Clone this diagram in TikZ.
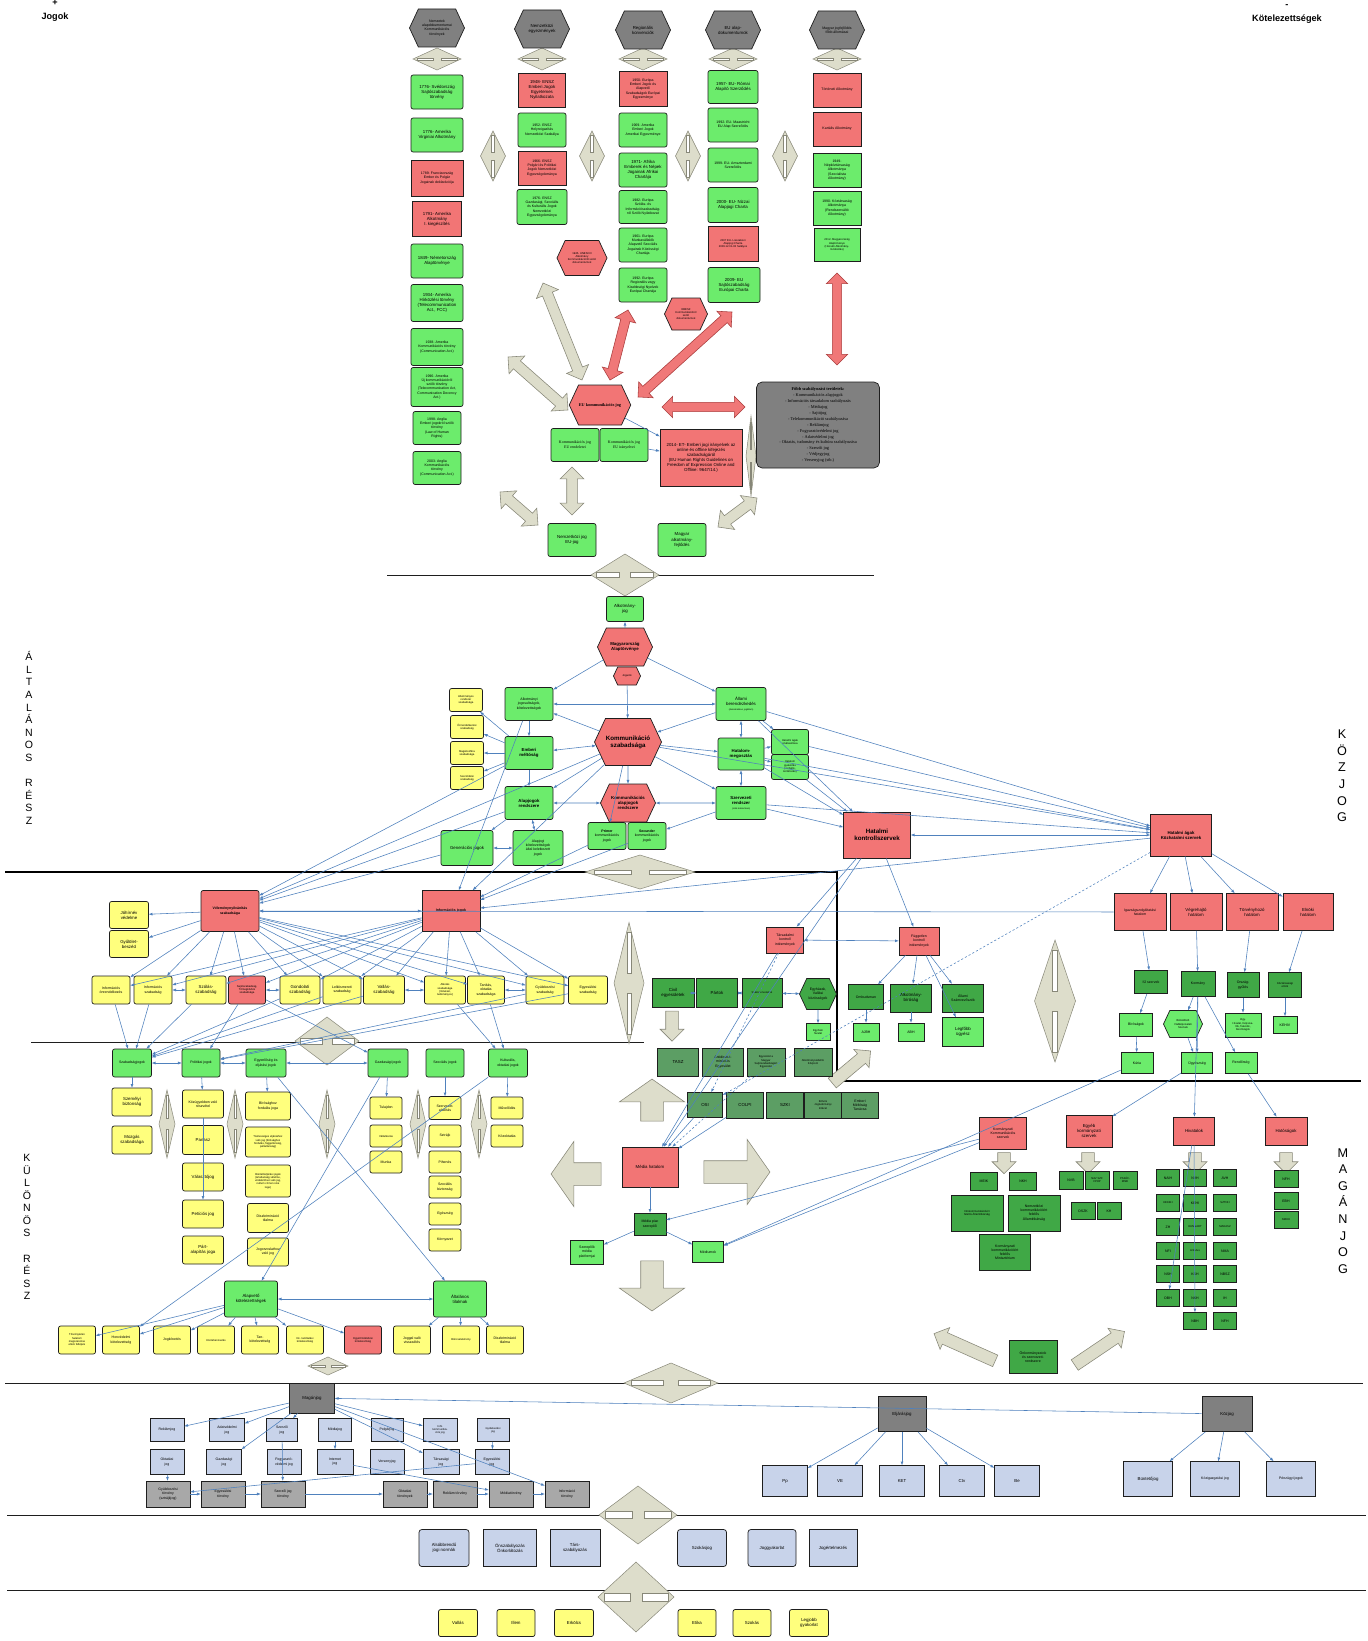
\documentclass[tikz,border=0pt]{standalone}
\usepackage{fontspec}
\setmainfont{Liberation Sans}
\newfontfamily\tnr{Liberation Serif}
\usepackage{tikz}
\usetikzlibrary{positioning,shapes.symbols,shapes.arrows}
\definecolor{grn}{RGB}{108,236,108}
\definecolor{dgrn}{RGB}{64,168,70}
\definecolor{mgrn}{RGB}{92,158,100}
\definecolor{rd}{RGB}{242,117,117}
\definecolor{yel}{RGB}{255,255,125}
\definecolor{hgry}{RGB}{128,128,128}
\definecolor{mgry}{RGB}{168,168,168}
\definecolor{lblu}{RGB}{200,211,234}
\definecolor{beige}{RGB}{221,221,203}
\definecolor{arrb}{RGB}{135,135,120}
\definecolor{lnk}{RGB}{79,129,189}
\definecolor{bord}{RGB}{30,30,30}
\definecolor{rarr}{RGB}{240,120,120}
\definecolor{rbord}{RGB}{170,60,60}

\newcommand\hdia[4]{%
  \filldraw[dia] (#1-#3/2,#2) -- (#1,#2-#4/2) -- (#1+#3/2,#2) -- (#1,#2+#4/2) -- cycle;
  \filldraw[slit] (#1-#3*0.42,#2-#4*0.06) rectangle (#1-#3*0.08,#2+#4*0.06);
  \filldraw[slit] (#1+#3*0.08,#2-#4*0.06) rectangle (#1+#3*0.42,#2+#4*0.06);}
\newcommand\vdia[4]{%
  \filldraw[dia] (#1-#3/2,#2) -- (#1,#2-#4/2) -- (#1+#3/2,#2) -- (#1,#2+#4/2) -- cycle;
  \filldraw[slit] (#1-#3*0.06,#2-#4*0.42) rectangle (#1+#3*0.06,#2-#4*0.08);
  \filldraw[slit] (#1-#3*0.06,#2+#4*0.08) rectangle (#1+#3*0.06,#2+#4*0.42);}

\begin{document}
\begin{tikzpicture}[x=0.05cm, y=-0.05cm,
  bx/.style={draw=bord, line width=1pt, align=center, inner sep=0.5pt, font=\fontsize{6.2}{7.2}\selectfont},
  sz/.style 2 args={minimum width=#1*0.05cm, minimum height=#2*0.05cm},
  gb/.style={bx, fill=grn, rounded corners=3pt},
  gs/.style={bx, fill=grn},
  rb/.style={bx, fill=rd},
  rr/.style={bx, fill=rd, rounded corners=3pt},
  yb/.style={bx, fill=yel, rounded corners=3pt},
  dg/.style={bx, fill=dgrn},
  mg/.style={bx, fill=mgrn},
  lb/.style={bx, fill=lblu},
  lbr/.style={bx, fill=lblu, rounded corners=4pt},
  dk/.style={bx, fill=hgry},
  md/.style={bx, fill=mgry},
  hexa/.style={bx, signal, signal to=east and west, signal pointer angle=130},
  hexg/.style={hexa, fill=hgry},
  hexr/.style={hexa, fill=rd},
  hexd/.style={hexa, fill=dgrn},
  hexl/.style={hexa, fill=grn},
  sm/.style={font=\fontsize{5}{5.9}\selectfont},
  tn/.style={font=\fontsize{3.9}{4.6}\selectfont},
  bf/.style={font=\fontsize{6.2}{7.2}\selectfont\bfseries},
  bfl/.style={font=\fontsize{8.8}{10.2}\selectfont\bfseries},
  side/.style={align=center, font=\fontsize{15}{17.9}\selectfont, inner sep=0pt},
  bigside/.style={align=center, font=\fontsize{18}{23.7}\selectfont, inner sep=0pt},
  corner/.style={font=\fontsize{13}{14}\selectfont\bfseries, inner sep=0pt},
  conn/.style={-latex, draw=lnk, line width=0.8pt},
  conn2/.style={latex-latex, draw=lnk, line width=0.8pt},
  connd/.style={-latex, draw=lnk, line width=0.8pt, dashed},
  dia/.style={fill=beige, draw=arrb, line width=0.7pt},
  slit/.style={fill=white, draw=arrb, line width=0.5pt},
  len/.style={minimum height=#1*0.05cm},
  bdbl/.style={double arrow, draw=arrb, fill=beige, line width=0.8pt, inner xsep=0pt, inner ysep=0.25cm, double arrow head extend=0.33cm, double arrow tip angle=90},
  rdbl/.style={bdbl, draw=rbord, fill=rarr, inner ysep=0.22cm, double arrow head extend=0.3cm},
  bsgl/.style={single arrow, draw=arrb, fill=beige, line width=0.8pt, inner xsep=0pt, inner ysep=0.55cm, single arrow head extend=1.07cm, single arrow tip angle=110},
  ssgl/.style={bsgl, inner ysep=0.3cm, single arrow head extend=0.28cm, single arrow tip angle=90},
  frame/.style={line width=2.2pt, draw=black},
  rule/.style={line width=1pt, draw=bord}]

\fill[white] (0,0) rectangle (1368,1641);
\useasboundingbox (0,0) rectangle (1368,1641);

\node[corner] (plus) at (55,3) {+};
\node[corner] (jogok) at (55,17) {Jogok};
\node[corner] (minus) at (1287,6) {-};
\node[corner] (kotel) at (1287,19) {Kötelezettségek};

\node[side] (altalanos) at (29,738) {Á\\L\\T\\A\\L\\Á\\N\\O\\S\\[17.9pt]R\\É\\S\\Z};
\node[side] (kulonos) at (27,1227) {K\\Ü\\L\\Ö\\N\\Ö\\S\\[17.9pt]R\\É\\S\\Z};
\node[bigside] (kozjoglbl) at (1342,776) {K\\Ö\\Z\\J\\O\\G};
\node[bigside] (maganlbl) at (1343,1211) {M\\A\\G\\Á\\N\\J\\O\\G};

\draw[rule] (387,575) -- (874,575);
\draw[rule] (31,1042) -- (644,1042);
\draw[rule] (5,1383) -- (1363,1383);
\draw[rule] (7,1515) -- (1366,1515);
\draw[rule] (7,1590) -- (1366,1590);
\draw[frame] (5,872) -- (837,872) -- (837,1081) -- (1361,1081);

\hdia{437}{59}{48}{22}
\hdia{542}{59}{48}{22}
\hdia{643}{59}{48}{22}
\hdia{733}{59}{48}{22}
\hdia{837}{59}{48}{22}
\vdia{493}{156}{25}{50}
\vdia{592}{156}{25}{50}
\vdia{688}{156}{25}{50}
\vdia{785}{156}{25}{50}
\vdia{751}{456}{10}{80}
\hdia{625}{575}{68}{42}
\hdia{640}{872}{110}{34}
\vdia{629}{983}{30}{121}
\hdia{327}{1041}{64}{48}
\vdia{167}{1124}{16}{68}
\vdia{235}{1124}{16}{68}
\vdia{327}{1124}{16}{68}
\vdia{418}{1124}{16}{68}
\vdia{479}{1124}{16}{68}
\vdia{1055}{1001}{41}{122}
\hdia{328}{1366}{40}{18}
\hdia{671}{1383}{94}{40}
\hdia{638}{1515}{78}{58}
\hdia{636}{1597}{76}{70}

\node[bdbl, rotate={atan2(-97,39)}, len={104.5}] (bd1) at (562.5,331.5) {};
\node[bdbl, rotate={atan2(-53,60)}, len={80}] (bd2) at (538,383.5) {};
\node[rdbl, rotate={atan2(70,18)}, len={72.3}] (bd3) at (619,345) {};
\node[rdbl, rotate={atan2(85,94)}, len={126.7}] (bd4) at (685,354.5) {};
\node[rdbl, len={83}] (bd5) at (703.5,407) {};
\node[rdbl, rotate=90, len={92}] (bd6) at (837,319) {};
\node[bdbl, rotate=90, len={48}] (bd7) at (572,491) {};
\node[bdbl, rotate={atan2(-33,38)}, len={50.3}] (bd8) at (519,508.5) {};
\node[bdbl, rotate={atan2(29,39)}, len={48.6}] (bd9) at (737.5,512.5) {};

\node[bsgl, rotate=90, len={42}] (bup) at (652,1104) {};
\node[bsgl, rotate=180, len={50}] (bleft) at (580,1174) {};
\node[bsgl, len={66}] (bright) at (733,1172) {};
\node[bsgl, rotate=-90, len={50}] (bdown) at (652,1282) {};
\node[ssgl, rotate=-90, len={30}] (bcivil) at (672,1023) {};
\node[ssgl, rotate=40, len={50}] (bdiag) at (849,1069) {};
\node[ssgl, rotate=156, len={67}] (bonk1) at (967.5,1348.5) {};
\node[ssgl, rotate=34, len={60}] (bonk2) at (1097,1350) {};
\node[ssgl, rotate=-90, len={21}] (bk1) at (1004,1160) {};
\node[ssgl, rotate=-90, len={21}] (bk2) at (1088,1160) {};
\node[ssgl, rotate=-90, len={21}] (bk3) at (1195,1160) {};
\node[ssgl, rotate=-90, len={21}] (bk4) at (1286,1160) {};

\node[hexg, sz={55}{38}, sm] (hx1) at (437,28) {Nemzetek\\alapdokumentumai\\Kommunikációs\\törvények};
\node[hexg, sz={55}{38}] (hx2) at (542,29) {Nemzetközi\\egyezmények};
\node[hexg, sz={55}{38}] (hx3) at (643,30) {Regionális\\konvenciók};
\node[hexg, sz={55}{38}] (hx4) at (733,30) {EU alap-\\dokumentumok};
\node[hexg, sz={55}{38}, sm] (hx5) at (837,30) {Magyar jogfejlődés\\főbb állomásai};

\node[gb, sz={52}{34}] (c1a) at (437,92) {1776- Svédország\\Sajtószabadság\\törvény};
\node[gb, sz={52}{34}] (c1b) at (437,135) {1776- Amerika\\Virginiai Alkotmány};
\node[rb, sz={52}{36}, sm] (c1c) at (437,178) {1789- Franciaország\\Ember és Polgár\\Jogainak deklarációja};
\node[rb, sz={49}{35}] (c1d) at (437,219) {1791- Amerika\\Alkotmány\\I. kiegészítés};
\node[gb, sz={52}{34}] (c1e) at (437,261) {1849- Németország\\Alaptörvénye};
\node[gb, sz={52}{37}] (c1f) at (437,303) {1934- Amerika\\Hírközlési törvény\\(Telecommunication\\Act., FCC)};
\node[gb, sz={52}{37}, sm] (c1g) at (437,347) {1938- Amerika\\Kommunikációs törvény\\(Communication Act.)};
\node[gb, sz={52}{39}, sm] (c1h) at (437,387) {1996- Amerika\\Új kommunikációról\\szóló törvény\\(Telecommunication Act,\\Communication Decency\\Act.)};
\node[gb, sz={48}{33}, sm] (c1i) at (437,428) {1998- Anglia\\Emberi jogokról szóló\\törvény\\(Law of Human\\Rights)};
\node[gb, sz={48}{33}, sm] (c1j) at (437,468) {2003- Anglia\\Kommunikációs\\törvény\\(Communication Act.)};

\node[rb, sz={47}{34}] (c2a) at (542,90) {1948- ENSZ\\Emberi Jogok\\Egyetemes\\Nyilatkozata};
\node[gb, sz={48}{34}, sm] (c2b) at (542,130) {1952- ENSZ\\Helyreigazítás\\Nemzetközi Szabálya};
\node[rb, sz={48}{34}, sm] (c2c) at (542,168) {1966- ENSZ\\Polgári és Politikai\\Jogok Nemzetközi\\Egyezségokmánya};
\node[gb, sz={50}{35}, sm] (c2d) at (542,207) {1976- ENSZ\\Gazdasági, Szociális\\és Kulturális Jogok\\Nemzetközi\\Egyezségokmánya};
\node[hexr, sz={50}{35}, tn] (unesco) at (582,258) {1945- UNESCO\\Alkotmány\\Kommunikációról szóló\\dokumentumok};

\node[rb, sz={48}{35}, sm] (c3a) at (643,89) {1950- Európa\\Emberi Jogok és\\Alapvető\\Szabadságok Európai\\Egyezménye};
\node[gb, sz={48}{34}, sm] (c3b) at (643,130) {1969- Amerika\\Emberi Jogok\\Amerikai Egyezménye};
\node[gb, sz={48}{34}] (c3c) at (643,170) {1971- Afrika\\Emberek és Népek\\Jogainak Afrikai\\Chartája};
\node[gb, sz={48}{33}, sm] (c3d) at (643,207) {1982- Európa\\Szólás- és\\Információszabadság-\\ról Szóló Nyilatkozat};
\node[gb, sz={48}{34}, sm] (c3e) at (643,245) {1961- Európa\\Munkavállalók\\Alapvető Szociális\\Jogainak Közösségi\\Chartája};
\node[gb, sz={48}{34}, sm] (c3f) at (643,285) {1992- Európa\\Regionális vagy\\Kisebbségi Nyelvek\\Európai Chartája};
\node[hexr, sz={43}{32}, tn] (ebesz) at (686,314) {EBESZ\\Kommunikációról\\szóló\\dokumentumok};

\node[gb, sz={50}{33}] (c4a) at (733,87) {1957- EU- Római\\Alapító Szerződés};
\node[gb, sz={50}{34}, sm] (c4b) at (733,125) {1992- EU- Maastricht\\EU Alap Szerződés};
\node[gb, sz={50}{34}, sm] (c4c) at (733,165) {1999- EU- Amszterdami\\Szerződés};
\node[gb, sz={50}{35}] (c4d) at (733,205) {2000- EU- Nizzai\\Alapjogi Charta};
\node[rb, sz={50}{35}, tn] (c4e) at (733,244) {2007 EU- Lisszaboni\\Alapjogi Charta\\2009.12.01-től hatályos};
\node[gb, sz={52}{35}] (c4f) at (734,285) {2009- EU\\Sajtószabadság\\Európai Charta};

\node[rb, sz={48}{34}, sm] (c5a) at (837,90) {Történeti Alkotmány};
\node[rb, sz={48}{34}, sm] (c5b) at (837,129) {Kartális Alkotmány};
\node[gs, sz={48}{34}, sm] (c5c) at (837,170) {1949-\\Népköztársaság\\Alkotmánya\\(Szocialista\\Alkotmány)};
\node[gs, sz={48}{34}, sm] (c5d) at (837,208) {1990- Köztársaság\\Alkotmánya\\(Rendszerváltó\\Alkotmány)};
\node[gs, sz={46}{33}, tn] (c5e) at (837,245) {2012- Magyarország\\Alaptörvénye\\(Húsvéti Alkotmány-\\módosítás)};

\node[hexr, sz={57}{40}, font=\tnr\fontsize{6}{7}\selectfont\bfseries] (eukom) at (600,405) {EU kommunikációs jog};
\node[gb, sz={48}{33}, font=\tnr\fontsize{5.6}{7.5}\selectfont] (eu1) at (575,445) {Kommunikációs jog\\EU rendeletei};
\node[gb, sz={48}{33}, font=\tnr\fontsize{5.6}{7.5}\selectfont] (eu2) at (624,445) {Kommunikációs jog\\EU irányelvei};
\node[rb, sz={82}{57}] (et2014) at (701,458) {2014- ET- Emberi jogi irányelvek az\\online és offline kifejezés\\szabadságáról\\(EU Human Rights Guidelines on\\Freedom of Expression Online and\\Offline: 9647/14.)};
\node[bx, fill=hgry, rounded corners=8pt, sz={123}{86}, font=\tnr\fontsize{6.2}{8.5}\selectfont] (fobb) at (818,425) {{\bfseries Főbb szabályozási területek:}\\- Kommunikációs alapjogok\\- Információs társadalom szabályozás\\- Médiajog\\- Sajtójog\\- Telekommunikáció szabályozása\\- Reklámjog\\- Fogyasztóvédelmi jog\\- Adatvédelmi jog\\- Oktatás, tudomány és kultúra szabályozása\\- Szerzői jog\\- Védjegyjog\\- Versenyjog (stb.)};
\node[gb, sz={48}{33}] (nemzk) at (572,540) {Nemzetközi jog\\EU-jog};
\node[gb, sz={48}{33}] (magyalk) at (682,540) {Magyar\\alkotmány-\\fejlődés};

\node[gb, sz={37}{25}] (alkjog) at (625,609) {Alkotmány-\\jog};
\node[hexr, sz={55}{38}, bf] (alaptv) at (625,647) {Magyarország\\Alaptörvénye};
\node[hexr, sz={27}{18}, tn] (jogaink) at (627,676) {Jogaink};
\node[gb, sz={48}{33}, sm] (alkjogos) at (529,704) {Alkotmányi\\jogosultságok,\\kötelezettségek};
\node[gb, sz={50}{33}] (allami) at (741,704) {Állami\\berendezkedés\\{\fontsize{3.2}{4}\selectfont (demokratikus, jogállam)}};
\node[hexr, sz={65}{47}, bfl] (kommszab) at (628,742) {Kommunikáció\\szabadsága};
\node[gb, sz={48}{33}, bf] (emberi) at (529,753) {Emberi\\méltóság};
\node[gb, sz={46}{32}, bf] (hatalom) at (741,754) {Hatalom-\\megosztás};
\node[gb, sz={37}{25}, tn] (hagak) at (790,742) {Hatalmi ágak\\elválasztása};
\node[gb, sz={37}{25}, tn] (hgyak) at (790,767) {Hatalom\\gyakorlás\\(verbális,\\korlátozás)};
\node[yb, sz={33}{23}, tn] (y1) at (466,700) {Alkotmányos\\rendszer\\szabadsága};
\node[yb, sz={33}{23}, tn] (y2) at (467,727) {Önrendelkezési\\szabadság};
\node[yb, sz={33}{23}, tn] (y3) at (467,753) {Magánszféra\\szabadsága};
\node[yb, sz={33}{23}, tn] (y4) at (467,778) {Szerződési\\szabadság};
\node[gb, sz={48}{33}, bf] (alapjogok) at (529,803) {Alapjogok\\rendszere};
\node[hexr, sz={55}{38}, bf] (kommalap) at (628,803) {Kommunikációs\\alapjogok\\rendszere};
\node[gb, sz={50}{33}, bf] (szerv) at (741,803) {Szervezeti\\rendszer\\{\fontsize{3.2}{4}\selectfont\mdseries (szűk értelemben)}};
\node[gb, sz={52}{35}] (gener) at (467,848) {Generációs jogok};
\node[gb, sz={50}{35}, sm] (alapkotj) at (538,848) {Alapjogi\\kötelezettségek\\által keletkezett\\jogok};
\node[gb, sz={38}{27}, sm] (primer) at (607,836) {\textbf{Primer}\\kommunikációs\\jogok};
\node[gb, sz={38}{27}, sm] (secunder) at (647,836) {\textbf{Secunder}\\kommunikációs\\jogok};
\node[rb, sz={67}{46}, bfl] (hatkontr) at (877,835) {Hatalmi\\kontrollszervek};
\node[rb, sz={61}{42}, bf] (hatagak) at (1181,835) {Hatalmi ágak\\Közhatalmi szervek};

\node[rb, sz={37}{26}, sm] (tarsad) at (785,940) {Társadalmi\\kontroll\\intézmények};
\node[rb, sz={40}{28}, sm] (fuggetl) at (919,941) {Független\\kontroll\\intézmények};
\node[rb, sz={52}{37}, sm] (igaz) at (1140,912) {Igazságszolgáltatási\\hatalom};
\node[rb, sz={52}{37}] (vegre) at (1196,912) {Végrehajtó\\hatalom};
\node[rb, sz={52}{37}] (torv) at (1252,912) {Törvényhozó\\hatalom};
\node[rb, sz={50}{37}] (elnok) at (1308,912) {Elnöki\\hatalom};
\node[dg, sz={42}{29}] (civil) at (673,993) {Civil\\egyesületek};
\node[dg, sz={41}{29}] (partok) at (717,993) {Pártok};
\node[dg, sz={40}{29}, tn] (szaksz) at (762,993) {Szakszervezetek};
\node[hexd, sz={37}{31}, sm] (egyhaz) at (818,994) {Egyházak,\\Vallási\\közösségek};
\node[dg, sz={35}{25}, sm] (ombud) at (866,997) {Ombudsman};
\node[dg, sz={41}{28}] (alkbir) at (911,998) {Alkotmány-\\bíróság};
\node[dg, sz={41}{28}, sm] (asz) at (963,998) {Állami\\Számvevőszék};
\node[gs, sz={24}{17}, tn] (egyhiv) at (818,1032) {Egyházi\\hivatal};
\node[gs, sz={26}{18}, sm] (ajbh) at (866,1032) {AJBH};
\node[gs, sz={26}{18}, sm] (abh) at (911,1032) {ABH};
\node[gs, sz={41}{29}] (legfobb) at (963,1032) {Legfőbb\\ügyész};
\node[mg, sz={41}{28}] (tasz) at (678,1062) {TASZ};
\node[mg, sz={41}{28}, sm] (antid) at (723,1062) {Antidiszkri-\\minációs\\Egyesület};
\node[mg, sz={38}{28}, tn] (egysajto) at (766,1062) {Egyesület a\\Magyar\\Sajtószabadságért\\Egyesület};
\node[mg, sz={38}{28}, tn] (alkvk) at (813,1062) {Alkotmányvédelmi\\Központ};
\node[mg, sz={35}{25}] (osi) at (705,1105) {OSI};
\node[mg, sz={37}{26}] (colpi) at (745,1105) {COLPI};
\node[mg, sz={37}{26}] (szki) at (785,1105) {SZKI};
\node[mg, sz={37}{26}, tn] (eotvos) at (823,1105) {Eötvös\\Jogtudományi\\Intézet};
\node[mg, sz={37}{26}, sm] (emt) at (860,1105) {Emberi\\Méltóság\\Tanácsa};
\node[rb, sz={56}{40}] (mediah) at (650,1167) {Média hatalom};
\node[dg, sz={32}{22}, sm] (mpiac) at (650,1224) {Média piac\\szereplői};
\node[gs, sz={33}{24}, sm] (szerepl) at (587,1252) {Szereplők\\média\\platformjai};
\node[gs, sz={31}{21}, sm] (mediumok) at (708,1252) {Médiumok};

\node[dg, sz={33}{23}, sm] (iu) at (1151,982) {IÜ szervek};
\node[dg, sz={34}{25}, sm] (korm) at (1198,984) {Kormány};
\node[dg, sz={32}{25}, sm] (orszgy) at (1243,985) {Ország-\\gyűlés};
\node[dg, sz={33}{25}, tn] (ktelnok) at (1285,985) {Köztársasági\\elnök};
\node[gs, sz={33}{23}, sm] (birosag) at (1136,1025) {Bíróságok};
\node[hexl, sz={39}{27}, tn] (bunuld) at (1183,1024) {Bűnüldöző\\Vádképviseleti\\Szervek};
\node[gs, sz={36}{24}, tn] (ogyhiv) at (1243,1025) {Ogy.\\Hivatal, Képvise-\\lők, frakciók,\\bizottságok};
\node[gs, sz={24}{17}, sm] (kehiv) at (1285,1025) {KEHIV};
\node[gs, sz={32}{21}, sm] (kuria) at (1137,1063) {Kúria};
\node[gs, sz={31}{21}, sm] (ugyesz) at (1197,1063) {Ügyészség};
\node[gs, sz={32}{21}, sm] (rendor) at (1241,1063) {Rendőrség};

\node[yb, sz={39}{27}] (johir) at (129,915) {Jóhírnév\\védelme};
\node[yb, sz={39}{27}] (gyulol) at (129,944) {Gyűlölet-\\beszéd};
\node[rr, sz={58}{41}, font=\fontsize{5}{6}\selectfont\bfseries] (velem) at (230,911) {Véleménynyilvánítás\\szabadsága};
\node[rb, sz={58}{41}, font=\fontsize{5}{6}\selectfont\bfseries] (infoj) at (451,911) {Információs jogok};
\node[yb, sz={38}{28}, sm] (iro) at (111,990) {Információs\\önrendelkezés};
\node[yb, sz={38}{28}, sm] (isz) at (153,990) {Információs\\szabadság};
\node[yb, sz={40}{28}] (szol) at (206,990) {Szólás-\\szabadság};
\node[rr, sz={37}{28}, tn] (sajto) at (247,990) {Sajtószabadság,\\Tömegközlés\\szabadsága};
\node[yb, sz={40}{28}] (gond) at (300,990) {Gondolati\\szabadság};
\node[yb, sz={38}{28}, sm] (lelk) at (342,990) {Lelkiismereti\\szabadság};
\node[yb, sz={41}{28}] (vall) at (384,990) {Vallás-\\szabadság};
\node[yb, sz={41}{28}, tn] (alkot) at (445,990) {Alkotás\\szabadsága\\(művészi,\\tudományos)};
\node[yb, sz={37}{28}, sm] (tanit) at (486,990) {Tanítás,\\oktatás\\szabadsága};
\node[yb, sz={38}{28}, sm] (gyul) at (545,990) {Gyülekezési\\szabadság};
\node[yb, sz={39}{28}, sm] (egyes) at (588,990) {Egyesülési\\szabadság};

\node[gb, sz={39}{28}, sm] (szabj) at (132,1063) {Szabadságjogok};
\node[gb, sz={38}{28}, sm] (polj) at (201,1063) {Politikai jogok};
\node[gb, sz={40}{28}, sm] (egyj) at (266,1063) {Egyenlőség és\\eljárási jogok};
\node[gb, sz={40}{28}, sm] (gazdj) at (388,1063) {Gazdasági jogok};
\node[gb, sz={38}{28}, sm] (szocj) at (445,1063) {Szociális jogok};
\node[gb, sz={39}{28}, sm] (kultj) at (508,1063) {Kulturális,\\oktatási jogok};
\node[yb, sz={40}{28}] (szemb) at (132,1102) {Személyi\\biztonság};
\node[yb, sz={40}{28}] (mozg) at (132,1140) {Mozgás\\szabadsága};
\node[yb, sz={41}{28}, sm] (kozugy) at (203,1104) {Közügyekben való\\részvétel};
\node[yb, sz={41}{29}] (panasz) at (203,1140) {Panasz};
\node[yb, sz={41}{28}] (valaszt) at (203,1177) {Választójog};
\node[yb, sz={41}{28}] (petic) at (203,1214) {Petíciós jog};
\node[yb, sz={41}{28}] (part) at (203,1250) {Párt-\\alapítás joga};
\node[yb, sz={45}{28}, sm] (birf) at (268,1106) {Bírósághoz\\fordulás joga};
\node[yb, sz={45}{30}, tn] (tiszt) at (268,1142) {Tisztességes eljáráshoz\\való jog (bírósághoz\\fordulás, függetlenség,\\pártatlanság)};
\node[yb, sz={45}{32}, tn] (buntej) at (268,1181) {Büntetőeljárási jogok\\(ártatlanság vélelme,\\védelemhez való jog,\\nullum crimen sine\\lege)};
\node[yb, sz={41}{29}, sm] (diszk) at (268,1218) {Diszkrimináció\\tilalma};
\node[yb, sz={41}{28}, sm] (jogorv) at (268,1252) {Jogorvoslathoz\\való jog};
\node[yb, sz={32}{22}, sm] (tulaj) at (386,1108) {Tulajdon};
\node[yb, sz={32}{22}, tn] (vallalk) at (386,1136) {Vállalkozás};
\node[yb, sz={32}{22}, sm] (munka) at (386,1162) {Munka};
\node[yb, sz={32}{23}, sm] (szervalak) at (445,1108) {Szervezet-\\alakítás};
\node[yb, sz={32}{22}, sm] (sztrajk) at (445,1136) {Sztrájk};
\node[yb, sz={32}{22}, sm] (pihen) at (445,1162) {Pihenés};
\node[yb, sz={32}{22}, sm] (szocb) at (445,1187) {Szociális\\biztonság};
\node[yb, sz={32}{22}, sm] (egesz) at (445,1214) {Egészség};
\node[yb, sz={32}{22}, sm] (korny) at (445,1240) {Környezet};
\node[yb, sz={32}{22}, sm] (muvel) at (507,1108) {Művelődés};
\node[yb, sz={32}{22}, sm] (kozokt) at (507,1136) {Közoktatás};
\node[gb, sz={53}{36}] (alapkot) at (251,1299) {Alapvető\\kötelezettségek};
\node[gb, sz={53}{36}] (altil) at (460,1299) {Általános\\tilalmak};
\node[yb, sz={37}{28}, tn] (b1) at (77,1340) {Törvénytelen\\hatalom\\megszerzése\\elleni fellépés};
\node[yb, sz={37}{28}, sm] (b2) at (121,1340) {Honvédelmi\\kötelezettség};
\node[yb, sz={37}{28}, sm] (b3) at (172,1340) {Jogkövetés};
\node[yb, sz={37}{28}, tn] (b4) at (216,1340) {Közteherviselés};
\node[yb, sz={37}{28}, sm] (b5) at (260,1340) {Tan-\\kötelezettség};
\node[yb, sz={37}{28}, tn] (b6) at (305,1340) {Kk. taníttatási\\kötelezettség};
\node[rr, sz={37}{28}, tn] (b7) at (363,1340) {Együttműködési\\kötelezettség};
\node[yb, sz={37}{28}, sm] (b8) at (412,1340) {Joggal való\\visszaélés};
\node[yb, sz={37}{28}, tn] (b9) at (461,1340) {Bűncselekmény};
\node[yb, sz={37}{28}, sm] (b10) at (505,1340) {Diszkrimináció\\tilalma};

\node[rb, sz={47}{32}, sm] (kormkom) at (1003,1133) {Kormányzati\\Kommunikációs\\szervek};
\node[rb, sz={46}{32}] (egyeb) at (1089,1131) {Egyéb\\kormányzati\\szervek};
\node[rb, sz={41}{28}] (hivatal) at (1194,1131) {Hivatalok};
\node[rb, sz={42}{28}] (hatosag) at (1286,1131) {Hatóságok};
\node[dg, sz={27}{18}, sm] (meik) at (984,1181) {MEIK};
\node[dg, sz={27}{18}, sm] (nkh1) at (1023,1181) {NKH};
\node[dg, sz={52}{36}, tn] (infoall) at (977,1213) {Infokommunikációért\\felelős Államtitkárság};
\node[dg, sz={52}{36}, sm] (nemzall) at (1034,1213) {Nemzetközi\\kommunikációért\\felelős\\Államtitkárság};
\node[dg, sz={51}{36}, sm] (kormmin) at (1005,1252) {Kormányzati\\kommunikációért\\felelős\\Minisztérium};
\node[dg, sz={24}{18}, sm] (nvb) at (1071,1180) {NVB};
\node[dg, sz={24}{18}, tn] (navszf) at (1097,1180) {NAV SZF\\VPOP};
\node[dg, sz={24}{18}, tn] (pszaf) at (1125,1180) {PSZÁF-\\MNB};
\node[dg, sz={24}{17}, sm] (oszk) at (1083,1211) {OSZK};
\node[dg, sz={24}{17}, sm] (kh) at (1109,1211) {KH};
\node[dg, sz={23}{17}, sm] (naih) at (1168,1178) {NAIH};
\node[dg, sz={23}{17}, tn] (kekkh) at (1168,1203) {KEKKH};
\node[dg, sz={23}{17}, sm] (zh) at (1168,1227) {ZH};
\node[dg, sz={23}{17}, sm] (nfi) at (1168,1251) {NFI};
\node[dg, sz={23}{17}, sm] (nsh) at (1168,1274) {NSH};
\node[dg, sz={23}{17}, sm] (obh) at (1168,1298) {OBH};
\node[dg, sz={23}{17}, sm] (nvh) at (1195,1178) {NVH};
\node[dg, sz={23}{17}, sm] (kehi) at (1195,1203) {KEHI};
\node[dg, sz={23}{17}, tn] (hungart) at (1195,1227) {HUNGART};
\node[dg, sz={23}{17}, tn] (artisjus) at (1195,1251) {ArtisJus};
\node[dg, sz={23}{17}, sm] (ksh) at (1195,1274) {KSH};
\node[dg, sz={23}{17}, sm] (nkh2) at (1195,1298) {NKH};
\node[dg, sz={23}{17}, sm] (nbh) at (1195,1321) {NBH};
\node[dg, sz={23}{17}, sm] (avh) at (1225,1178) {AVH};
\node[dg, sz={23}{17}, tn] (sztnh) at (1225,1203) {SZTNH};
\node[dg, sz={23}{17}, tn] (mahasz) at (1225,1227) {MAHASZ};
\node[dg, sz={23}{17}, sm] (nma) at (1225,1251) {NMA};
\node[dg, sz={23}{17}, sm] (nbsz) at (1225,1274) {NBSZ};
\node[dg, sz={23}{17}, sm] (ih) at (1225,1298) {IH};
\node[dg, sz={23}{17}, sm] (nfh1) at (1225,1321) {NFH};
\node[dg, sz={24}{17}, sm] (nfh2) at (1286,1179) {NFH};
\node[dg, sz={24}{17}, sm] (ebh) at (1286,1201) {EBH};
\node[dg, sz={24}{17}, tn] (nmhh) at (1286,1220) {NMHH};
\node[dg, sz={48}{33}, sm] (onkorm) at (1033,1357) {Önkormányzatok\\és szervezeti-\\rendszere};

\node[dk, sz={45}{30}] (maganjog) at (312,1398) {Magánjog};
\node[lb, sz={34}{23}, sm] (reklamj) at (167,1430) {Reklámjog};
\node[lb, sz={35}{23}, sm] (adatv) at (227,1430) {Adatvédelmi\\jog};
\node[lb, sz={31}{23}, sm] (szerzoj) at (282,1430) {Szerzői\\jog};
\node[lb, sz={33}{23}, sm] (mediaj) at (335,1430) {Médiajog};
\node[lb, sz={32}{23}, sm] (polgarj) at (387,1430) {Polgárjog};
\node[lb, sz={34}{23}, tn] (infokj) at (440,1430) {Info\\kommuniká-\\ciós jog};
\node[lb, sz={32}{23}, tn] (gyulj) at (493,1430) {Gyülekezési\\jog};
\node[lb, sz={34}{25}, sm] (oktj) at (167,1462) {Oktatási\\jog};
\node[lb, sz={35}{25}, sm] (gazdj2) at (224,1462) {Gazdasági\\jog};
\node[lb, sz={34}{25}, sm] (fogyj) at (284,1462) {Fogyasztó-\\védelmi jog};
\node[lb, sz={36}{25}, sm] (internj) at (335,1462) {Internet\\jog};
\node[lb, sz={34}{25}, sm] (versj) at (387,1462) {Versenyjog};
\node[lb, sz={36}{25}, sm] (tarsj) at (441,1462) {Társasági\\jog};
\node[lb, sz={34}{25}, sm] (egyesj) at (492,1462) {Egyesülési\\jog};
\node[md, sz={44}{26}, sm] (gyultv) at (168,1494) {Gyülekezési\\törvény\\(sztrájkjog)};
\node[md, sz={44}{26}, sm] (egyestv) at (223,1494) {Egyesülési\\törvény};
\node[md, sz={44}{26}, sm] (szerztv) at (283,1494) {Szerzői jog\\törvény};
\node[md, sz={44}{26}, sm] (oktv) at (405,1494) {Oktatási\\törvények};
\node[md, sz={44}{26}, sm] (reklamtv) at (455,1494) {Reklám törvény};
\node[md, sz={44}{26}, sm] (mediatv) at (511,1494) {Médiatörvény};
\node[md, sz={44}{26}, sm] (infotv) at (567,1494) {Információ\\törvény};
\node[dk, sz={48}{35}] (eljaras) at (902,1414) {Eljárásjog};
\node[dk, sz={50}{35}] (kozjog) at (1227,1414) {Közjog};
\node[lb, sz={45}{31}] (pp) at (785,1481) {Pp};
\node[lb, sz={45}{31}] (ve) at (840,1481) {VE};
\node[lb, sz={45}{31}] (ket) at (902,1481) {KET};
\node[lb, sz={45}{31}] (ctv) at (962,1481) {Ctv};
\node[lb, sz={45}{31}] (be) at (1017,1481) {Be};
\node[lb, sz={49}{35}] (buntj) at (1148,1479) {Büntetőjog};
\node[lb, sz={49}{35}, sm] (kozig) at (1215,1479) {Közigazgatási jog};
\node[lb, sz={49}{35}, sm] (penz) at (1291,1479) {Pénzügyi jogok};

\node[lbr, sz={50}{37}] (als) at (444,1548) {Alsóbbrendű\\jogi normák};
\node[lb, sz={53}{37}] (onszab) at (510,1548) {Önszabályozás\\Önkorlátozás};
\node[lb, sz={50}{37}] (tarsszab) at (575,1548) {Társ-\\szabályozás};
\node[lbr, sz={49}{37}] (szokasj) at (702,1548) {Szokásjog};
\node[lbr, sz={48}{37}] (joggyak) at (772,1548) {Joggyakorlat};
\node[lb, sz={48}{37}] (jogert) at (833,1548) {Jogértelmezés};
\node[yb, sz={39}{27}] (vallas) at (458,1623) {Vallás};
\node[yb, sz={38}{27}] (illem) at (516,1623) {Illem};
\node[yb, sz={39}{27}] (erkolcs) at (574,1623) {Erkölcs};
\node[yb, sz={38}{27}] (etika) at (697,1623) {Etika};
\node[yb, sz={38}{27}] (szokas) at (752,1623) {Szokás};
\node[yb, sz={39}{27}] (legjobb) at (809,1623) {Legjobb\\gyakorlat};

\path (eukom) edge[conn] (et2014) (eu2) edge[conn] (et2014);
\path (alaptv) edge[conn] (alkjog) edge[conn] (alkjogos) edge[conn] (allami);
\path (jogaink) edge[conn] (kommszab);
\path (alkjogos) edge[conn2] (allami) edge[conn] (emberi);
\path (emberi) edge[conn] (alapjogok) edge[conn] (y1) edge[conn] (y2) edge[conn] (y3) edge[conn] (y4);
\path (allami) edge[conn2] (hatalom) edge[conn] (kommszab) edge[conn] (hagak) edge[conn] (hatkontr) edge[conn] (hatagak);
\path (hatalom) edge[conn2] (szerv) edge[conn] (hagak) edge[conn] (hgyak) edge[conn] (hatkontr) edge[conn] (hatagak);
\path (kommszab) edge[conn] (alkjogos) edge[conn2] (emberi) edge[conn] (hatalom) edge[conn] (kommalap) edge[conn] (szerv) edge[conn] (alapjogok) edge[conn] (primer) edge[conn] (hatagak) edge[conn] (velem) edge[conn] (infoj);
\path (kommalap) edge[conn2] (szerv) edge[conn2] (alapjogok);
\path (alapjogok) edge[conn2] (alapkotj) edge[conn] (gener) edge[conn] (velem);
\path (gener) edge[conn2] (alapkotj) edge[conn] (velem);
\path (szerv) edge[conn] (secunder) edge[conn] (hatkontr) edge[conn] (hatagak);
\path (hagak) edge[conn] (hatagak) (hgyak) edge[conn] (hatkontr);
\path (primer) edge[conn] (infoj) (secunder) edge[conn] (infoj) (alkjogos) edge[conn] (infoj) (emberi) edge[conn] (velem);
\path (hatkontr) edge[conn2] (hatagak) edge[conn] (tarsad) edge[conn] (fuggetl) edge[conn] (mediah);
\path (hatagak) edge[conn] (igaz) edge[conn] (vegre) edge[conn] (torv) edge[conn] (elnok) edge[conn] (infoj);
\path (igaz) edge[conn] (velem);
\path (tarsad) edge[conn2] (fuggetl) edge[conn] (mediah);
\path (fuggetl) edge[conn] (ombud) edge[conn] (alkbir) edge[conn] (asz) edge[conn] (legfobb);
\path (ombud) edge[conn] (ajbh) (alkbir) edge[conn] (abh) (egyhaz) edge[conn] (egyhiv);
\path (civil) edge[conn2] (partok) (partok) edge[conn2] (szaksz) (szaksz) edge[conn2] (egyhaz);
\path (igaz) edge[conn] (iu) (vegre) edge[conn] (korm) (torv) edge[conn] (orszgy) (elnok) edge[conn] (ktelnok);
\path (iu) edge[conn] (birosag) (birosag) edge[conn] (kuria) (korm) edge[conn] (bunuld) edge[conn] (ugyesz) edge[conn] (rendor) edge[conn] (hivatal);
\path (orszgy) edge[conn] (ogyhiv) (ktelnok) edge[conn] (kehiv) (bunuld) edge[conn] (ugyesz);
\path (ugyesz) edge[conn] (egyeb) (rendor) edge[conn] (hatosag) (hivatal) edge[conn] (obh) edge[conn] (nbh);
\path (kormkom) edge[conn] (mediumok) edge[conn] (mpiac) (kuria) edge[conn] (mediumok);
\path (hatagak) edge[connd] (osi) (tarsad) edge[connd] (osi) (egysajto) edge[connd] (mediah) (colpi) edge[conn] (mediah) (osi) edge[conn] (mediah);
\path (mediah) edge[conn] (mpiac) (mpiac) edge[conn] (szerepl) edge[conn] (mediumok);
\path (infoj) edge[conn2] (velem);
\path (velem) edge[conn] (johir) edge[conn] (gyulol) edge[conn] (iro) edge[conn] (isz) edge[conn] (szol) edge[conn] (sajto) edge[conn] (gond) edge[conn] (lelk) edge[conn] (vall) edge[conn] (alkot) edge[conn] (tanit) edge[conn] (gyul) edge[conn] (egyes);
\path (infoj) edge[conn] (iro) edge[conn] (isz) edge[conn] (szol) edge[conn] (sajto) edge[conn] (gond) edge[conn] (lelk) edge[conn] (vall) edge[conn] (alkot) edge[conn] (tanit) edge[conn] (gyul) edge[conn] (egyes);
\path (isz) edge[conn2] (szol) (sajto) edge[conn2] (gond) (vall) edge[conn2] (alkot) (tanit) edge[conn2] (gyul);
\path (iro) edge[conn] (szabj) (isz) edge[conn] (szabj) (szol) edge[conn] (szabj) (sajto) edge[conn] (polj) (gond) edge[conn] (szabj) (lelk) edge[conn] (szabj) (vall) edge[conn] (szabj) (alkot) edge[conn] (kultj) (tanit) edge[conn] (kultj) (gyul) edge[conn] (polj) (egyes) edge[conn] (polj) (sajto) edge[conn] (gazdj);
\path (szabj) edge[conn2] (polj) (polj) edge[conn2] (egyj) (egyj) edge[conn2] (gazdj);
\path (szabj) edge[conn] (szemb) (polj) edge[conn] (kozugy) (egyj) edge[conn] (birf) (gazdj) edge[conn] (tulaj) (szocj) edge[conn] (szervalak) (kultj) edge[conn] (muvel);
\path (kozugy) edge[conn] (petic) (egyj) edge[conn] (altil) (gazdj) edge[conn] (alapkot) (kultj) edge[conn] (b2);
\path (alapkot) edge[conn2] (altil) edge[conn] (b1) edge[conn] (b2) edge[conn] (b3) edge[conn] (b4) edge[conn] (b5) edge[conn] (b6) edge[conn] (b7);
\path (altil) edge[conn] (b8) edge[conn] (b9) edge[conn] (b10);
\path (kozjog) edge[conn] (maganjog);
\path (maganjog) edge[conn] (reklamj) edge[conn] (adatv) edge[conn] (szerzoj) edge[conn] (gazdj2) edge[conn] (infokj) edge[conn] (tarsj) edge[conn] (infotv);
\path (mediaj) edge[conn] (internj) (szerzoj) edge[conn] (szerztv) (gyulj) edge[conn] (egyesj) (egyesj) edge[conn] (gyultv) (oktj) edge[conn] (gyultv);
\path (gyultv) edge[conn] (egyestv) (egyestv) edge[conn] (szerztv) (szerztv) edge[conn] (oktv) (oktv) edge[conn] (reklamtv) (reklamtv) edge[conn] (mediatv) (mediatv) edge[conn] (infotv) (internj) edge[conn] (mediatv);
\path (eljaras) edge[conn] (pp) edge[conn] (ve) edge[conn] (ket) edge[conn] (ctv) edge[conn] (be);
\path (kozjog) edge[conn] (buntj) edge[conn] (kozig) edge[conn] (penz);
\end{tikzpicture}
\end{document}
